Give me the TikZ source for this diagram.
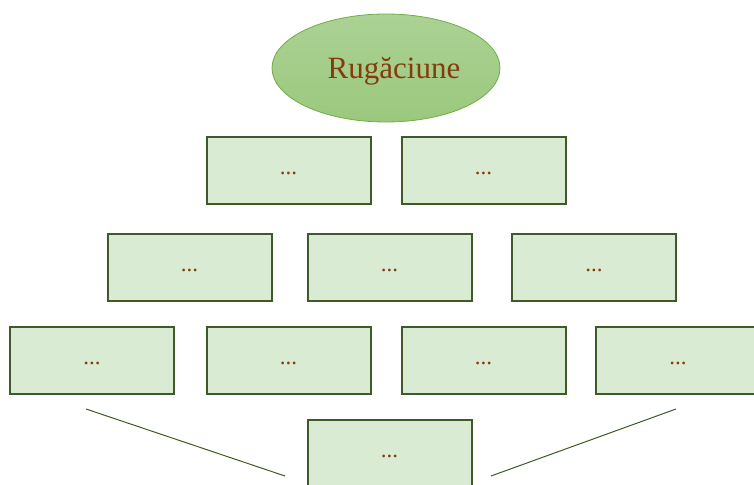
\documentclass[tikz,border=0pt]{standalone}
\usepackage{fontspec}
\setmainfont{Liberation Serif}
\usetikzlibrary{shapes.geometric}
\definecolor{boxfill}{RGB}{218,235,211}
\definecolor{boxline}{RGB}{62,90,40}
\definecolor{txt}{RGB}{132,60,12}
\definecolor{elltop}{RGB}{171,210,148}
\definecolor{ellbot}{RGB}{155,200,125}
\definecolor{ellline}{RGB}{112,173,71}
\newcommand{\dotsx}{\raisebox{-4pt}[0pt][0pt]{...}}
\tikzset{
  box/.style={draw=boxline, line width=2pt, fill=boxfill, minimum width=164pt, minimum height=67pt, inner sep=0pt, text=txt, font=\fontsize{23}{26}\selectfont},
  oval/.style={ellipse, draw=ellline, line width=0.8pt, top color=elltop, bottom color=ellbot, minimum width=228pt, minimum height=108pt, inner sep=0pt, text=txt, font=\fontsize{31}{34}\selectfont},
  thin line/.style={draw=boxline, line width=1pt}
}
\begin{document}
\begin{tikzpicture}[x=1pt,y=-1pt]
\useasboundingbox (0,0) rectangle (754,484);
\clip (0,0) rectangle (754,484);
\node[oval] (top) at (386,68) {\hspace{16pt}\raisebox{-11pt}[0pt][0pt]{Rugăciune}};
\node[box] (r1a) at (288.5,170.5) {\dotsx};
\node[box] (r1b) at (483.5,170.5) {\dotsx};
\node[box] (r2a) at (189.5,267) {\dotsx};
\node[box] (r2b) at (389.5,267) {\dotsx};
\node[box] (r2c) at (594,267) {\dotsx};
\node[box] (r3a) at (92,360) {\dotsx};
\node[box] (r3b) at (288.5,360) {\dotsx};
\node[box] (r3c) at (483.5,360) {\dotsx};
\node[box] (r3d) at (678,360) {\dotsx};
\node[box] (r4) at (389.5,453) {\dotsx};
\coordinate (l1a) at (86,409);
\coordinate (l1b) at (285,476);
\coordinate (l2a) at (676,409);
\coordinate (l2b) at (491,476);
\draw[thin line] (l1a) -- (l1b);
\draw[thin line] (l2a) -- (l2b);
\end{tikzpicture}
\end{document}
